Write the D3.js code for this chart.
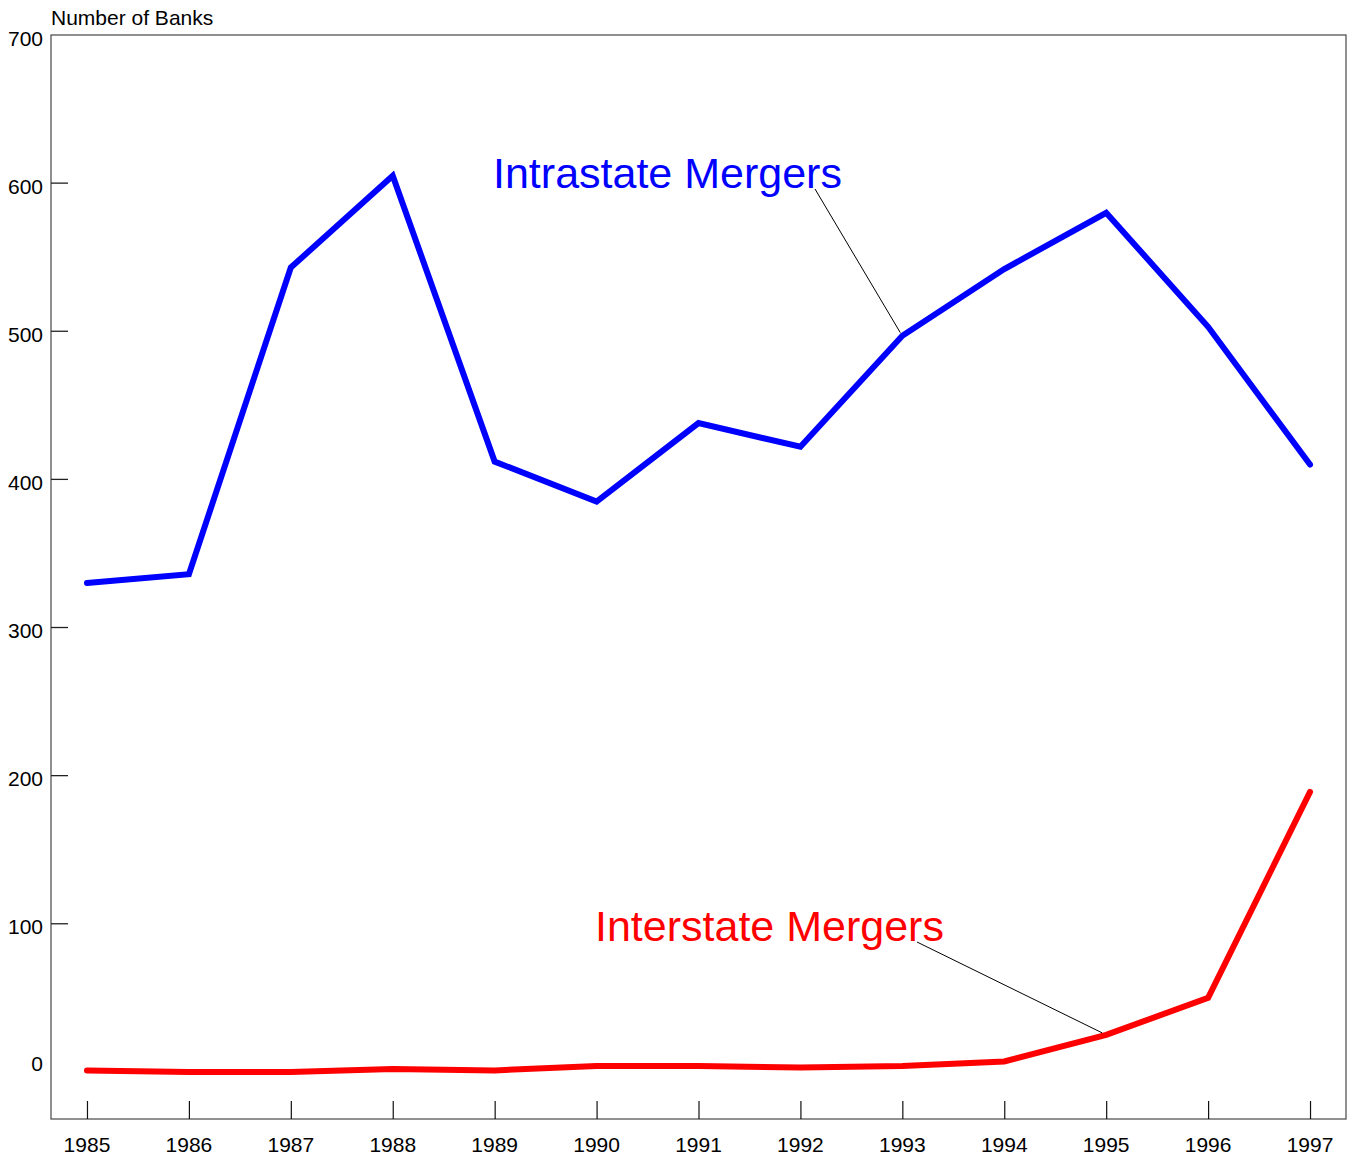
<!DOCTYPE html>
<html>
<head>
<meta charset="utf-8">
<script src="https://cdn.jsdelivr.net/npm/d3@7"></script>
<style>
  body { margin: 0; background: #fff; }
  svg { display: block; font-family: "Liberation Sans", Arial, sans-serif; }
</style>
</head>
<body>
<svg></svg>
<script>
const years = [1985, 1986, 1987, 1988, 1989, 1990, 1991, 1992, 1993, 1994, 1995, 1996, 1997],
  intrastate = [330, 336, 543, 605, 412, 385, 438, 422, 497, 542, 580, 503, 410],
  interstate = [1, 0, 0, 2, 1, 4, 4, 3, 4, 7, 25, 50, 189],
  yTicks = [0, 100, 200, 300, 400, 500, 600, 700];

const W = 1348,
  H = 1159,
  margin = { top: 35, right: 2, bottom: 40, left: 51 },
  width = W - margin.left - margin.right,
  height = H - margin.top - margin.bottom;

var svg = d3.select("svg").attr("width", W).attr("height", H);

var x = d3.scaleLinear().domain([1984.647, 1997.353]).range([margin.left, margin.left + width]);
var y = d3.scaleLinear().domain([-31.8, 700]).range([margin.top + height, margin.top]);

// frame
svg
  .append("rect")
  .attr("x", margin.left)
  .attr("y", margin.top)
  .attr("width", width)
  .attr("height", height)
  .attr("fill", "none")
  .attr("stroke", "#555")
  .attr("stroke-width", 1.3);

// y ticks, drawn inward (no tick at 0)
yTicks.filter(t => t > 0 && t < 700).forEach(t => {
  svg
    .append("line")
    .attr("x1", margin.left)
    .attr("x2", margin.left + 17)
    .attr("y1", y(t))
    .attr("y2", y(t))
    .attr("stroke", "#222")
    .attr("stroke-width", 1.3);
});

svg
  .selectAll(".ylab")
  .data(yTicks)
  .enter()
  .append("text")
  .attr("class", "ylab")
  .attr("x", margin.left - 8)
  .attr("y", t => (t === 0 ? y(t) - 8 : y(t) + 3))
  .attr("dy", "0.36em")
  .attr("text-anchor", "end")
  .attr("font-size", 21)
  .text(t => t);

// x axis ticks
var xAxis = d3.axisTop(x).tickValues(years).tickSize(18).tickFormat("");
svg
  .append("g")
  .attr("transform", "translate(0," + (margin.top + height) + ")")
  .call(xAxis)
  .call(g => g.select(".domain").remove())
  .call(g => g.selectAll("line").attr("stroke", "#111").attr("stroke-width", 1.2));

svg
  .selectAll(".xlab")
  .data(years)
  .enter()
  .append("text")
  .attr("class", "xlab")
  .attr("x", d => x(d))
  .attr("y", 1152)
  .attr("text-anchor", "middle")
  .attr("font-size", 21)
  .text(d => d);

svg
  .append("text")
  .attr("x", 51)
  .attr("y", 25)
  .attr("font-size", 21)
  .text("Number of Banks");

// lines
var line = d3
  .line()
  .x((d, i) => x(years[i]))
  .y(d => y(d));

[[intrastate, "#0000ff"], [interstate, "#ff0000"]].forEach(s => {
  svg
    .append("path")
    .datum(s[0])
    .attr("d", line)
    .attr("fill", "none")
    .attr("stroke", s[1])
    .attr("stroke-width", 6)
    .attr("stroke-linecap", "round")
    .attr("stroke-linejoin", "miter");
});

// annotations
svg
  .append("line")
  .attr("x1", 815)
  .attr("y1", 189)
  .attr("x2", x(1993) - 2)
  .attr("y2", y(intrastate[8]) - 3)
  .attr("stroke", "#000")
  .attr("stroke-width", 1);

svg
  .append("text")
  .attr("x", 493)
  .attr("y", 188)
  .attr("font-size", 43)
  .attr("fill", "#0000ff")
  .text("Intrastate Mergers");

svg
  .append("line")
  .attr("x1", 917)
  .attr("y1", 942)
  .attr("x2", x(1995) - 4)
  .attr("y2", y(interstate[10]) - 2)
  .attr("stroke", "#000")
  .attr("stroke-width", 1);

svg
  .append("text")
  .attr("x", 595)
  .attr("y", 941)
  .attr("font-size", 43)
  .attr("fill", "#ff0000")
  .text("Interstate Mergers");
</script>
</body>
</html>
